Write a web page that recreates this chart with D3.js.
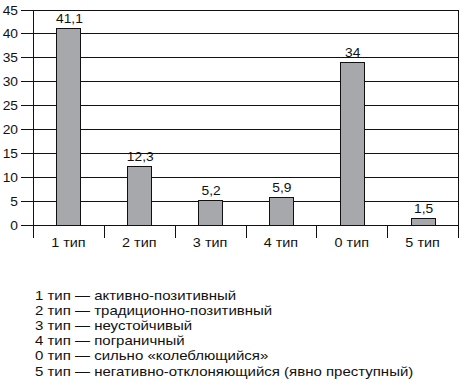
<!DOCTYPE html>
<html><head><meta charset="utf-8">
<script src="https://cdn.jsdelivr.net/npm/d3@7"></script>
<style>body{margin:0;background:#fff}svg{display:block}text{font-family:"Liberation Sans",Arial,sans-serif;fill:#111}</style>
</head><body>
<script>
const categories = ["1 тип","2 тип","3 тип","4 тип","0 тип","5 тип"];
const values = [41.1, 12.3, 5.2, 5.9, 34, 1.5];
const valueLabels = ["41,1","12,3","5,2","5,9","34","1,5"];
const yTicks = [0,5,10,15,20,25,30,35,40,45];
const legendLines = [
  "1 тип — активно-позитивный",
  "2 тип — традиционно-позитивный",
  "3 тип — неустойчивый",
  "4 тип — пограничный",
  "0 тип — сильно «колеблющийся»",
  "5 тип — негативно-отклоняющийся (явно преступный)"
];

(function () {
const W = 459, H = 382;
const mLeft = 33, mRight = 458, mTop = 9.5, mBottom = 225;
const svg = d3.select("body").append("svg").attr("width", W).attr("height", H);

const x = d3.scaleBand().domain(categories).range([mLeft, mRight]).paddingInner(0).paddingOuter(0);
const y = d3.scaleLinear().domain([0, 45]).range([mBottom, mTop]);

const tr = (px, py, sx) => `translate(${px},${py}) scale(${sx},1)`;

// gridlines
svg.append("g").selectAll("line").data(yTicks).join("line")
  .attr("x1", mLeft - 12).attr("x2", mRight)
  .attr("y1", d => Math.round(y(d)) + 0.5).attr("y2", d => Math.round(y(d)) + 0.5)
  .attr("stroke", "#111").attr("stroke-width", 1);

// y labels
svg.append("g").selectAll("text").data(yTicks).join("text")
  .attr("transform", d => tr(18, Math.round(y(d)) + 0.5, 1.15))
  .attr("dy", "0.36em").attr("text-anchor", "end")
  .attr("font-size", 12).text(d => d);

// vertical tick separators
const seps = categories.map(c => x(c)).concat([mRight]);
svg.append("g").selectAll("line").data(seps).join("line")
  .attr("x1", d => Math.round(d) + 0.5).attr("x2", d => Math.round(d) + 0.5)
  .attr("y1", (d, i) => (i === 0 || i === seps.length - 1) ? Math.round(y(45)) : Math.round(y(0)))
  .attr("y2", Math.round(y(0)) + 13)
  .attr("stroke", "#111").attr("stroke-width", 1);

// bars
const bw = 24;
svg.append("g").selectAll("rect").data(values).join("rect")
  .attr("x", (d, i) => Math.round(x(categories[i]) + x.bandwidth() / 2 - bw / 2) + 0.5)
  .attr("y", d => Math.round(y(d)) + 0.5)
  .attr("width", bw)
  .attr("height", d => Math.round(y(0)) - Math.round(y(d)))
  .attr("fill", "#a7a8ac").attr("stroke", "#111").attr("stroke-width", 1);

// value labels
svg.append("g").selectAll("text").data(values).join("text")
  .attr("transform", (d, i) => tr(x(categories[i]) + x.bandwidth() / 2 + 1, y(d) - 5, 1.15))
  .attr("text-anchor", "middle").attr("font-size", 12)
  .text((d, i) => valueLabels[i]);

// category labels
svg.append("g").selectAll("text").data(categories).join("text")
  .attr("transform", d => tr(x(d) + x.bandwidth() / 2, 246.5, 1.2))
  .attr("text-anchor", "middle").attr("font-size", 12)
  .text(d => d);

// legend
svg.append("g").selectAll("text").data(legendLines).join("text")
  .attr("transform", (d, i) => tr(35, 299.5 + i * 15.2, 1.2))
  .attr("font-size", 12.5).text(d => d);
})();
</script>
</body></html>
